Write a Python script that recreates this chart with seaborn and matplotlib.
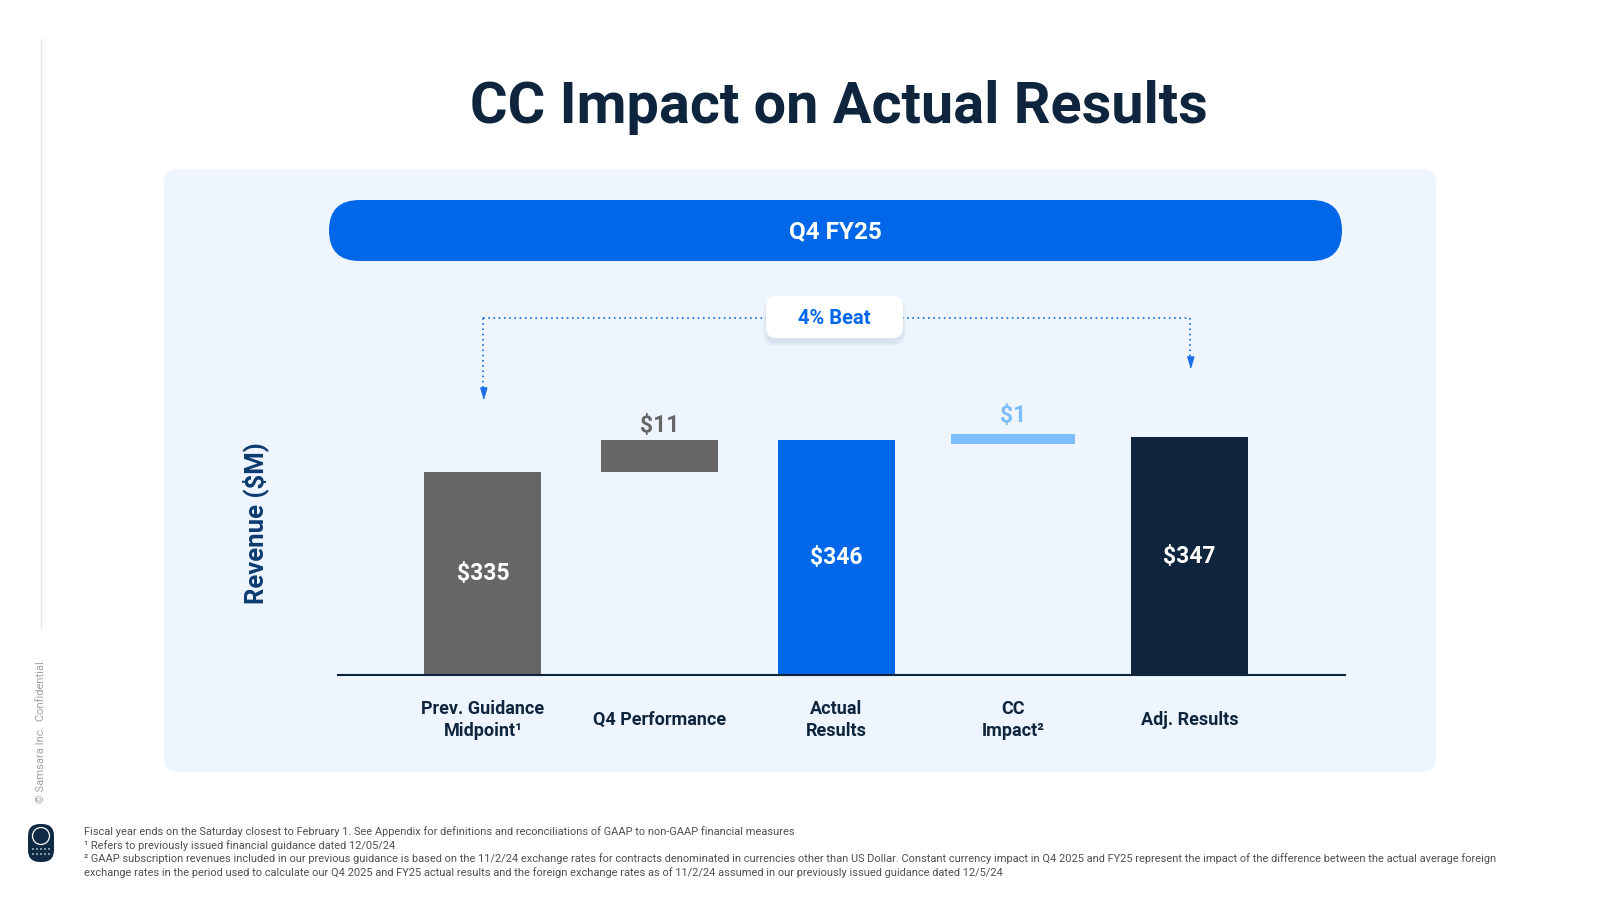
import numpy as np
import pandas as pd
import matplotlib
matplotlib.use("Agg")
import matplotlib.pyplot as plt
from matplotlib.patches import FancyBboxPatch, Circle
from matplotlib.transforms import blended_transform_factory
import seaborn as sns

# DATA
categories = ["Prev. Guidance\nMidpoint¹", "Q4 Performance", "Actual\nResults",
              "CC\nImpact²", "Adj. Results"]
values = [335, 11, 346, 1, 347]
step_kind = ["total", "change", "total", "change", "total"]
value_labels = ["$335", "$11", "$346", "$1", "$347"]

title = "CC Impact on Actual Results"
period_label = "Q4 FY25"
beat_label = "4% Beat"
y_label = "Revenue ($M)"
watermark = "© Samsara Inc.  Confidential."
footnotes = [
    "Fiscal year ends on the Saturday closest to February 1. See Appendix for definitions and reconciliations of GAAP to non-GAAP financial measures",
    "¹ Refers to previously issued financial guidance dated 12/05/24",
    "² GAAP subscription revenues included in our previous guidance is based on the 11/2/24 exchange rates for contracts denominated in currencies other than US Dollar. Constant currency impact in Q4 2025 and FY25 represent the impact of the difference between the actual average foreign",
    "exchange rates in the period used to calculate our Q4 2025 and FY25 actual results and the foreign exchange rates as of 11/2/24 assumed in our previously issued guidance dated 12/5/24",
]

# STYLE
NAVY = "#0F253E"
BLUE = "#0068E8"
GREY = "#666666"
LIGHT_BLUE = "#7DBDFB"
PANEL = "#EEF5FE"
bar_colors = [GREY, GREY, BLUE, LIGHT_BLUE, NAVY]
label_colors = ["white", GREY, "white", LIGHT_BLUE, "white"]
Y_MIN, Y_MAX = 264, 367

sns.set_theme(style="white")
plt.rcParams["font.family"] = ["Roboto", "DejaVu Sans"]

# waterfall bottoms
bottoms = []
running = 0
for v, k in zip(values, step_kind):
    if k == "total":
        bottoms.append(0)
        running = v
    else:
        bottoms.append(running)
        running += v

df = pd.DataFrame({"category": categories, "value": values, "bottom": bottoms})

fig = plt.figure(figsize=(16, 9), dpi=100, facecolor="white")


def inch(x, y):
    # pixel position (from top-left) -> inches (from bottom-left)
    return x / 100, (900 - y) / 100


def rbox(x0, y0, x1, y1, r, color, z, **kw):
    a, b = inch(x0, y1)
    p = FancyBboxPatch((a, b), (x1 - x0) / 100, (y1 - y0) / 100,
                       boxstyle=f"round,pad=0,rounding_size={r / 100}",
                       transform=fig.dpi_scale_trans, facecolor=color,
                       edgecolor="none", zorder=z, **kw)
    fig.patches.append(p)
    return p


fy = lambda p: 1 - p / 900

# background panel and period pill
rbox(164, 169, 1436, 772, 14, PANEL, -10)
rbox(329, 200, 1342, 261, 30.5, BLUE, -9)
fig.text(835.5 / 1600, fy(232), period_label, ha="center", va="center",
         color="white", fontsize=17.5, fontweight="bold")

# title
fig.text(839 / 1600, fy(123), title, ha="center", va="baseline",
         color=NAVY, fontsize=41.5, fontweight="bold")

# main axes
ax = fig.add_axes([338 / 1600, 0.25, 1007 / 1600, 295 / 900])
ax.set_facecolor("none")

sns.barplot(data=df, x="category", y="value", bottom=df["bottom"].to_numpy(),
            width=0.663, errorbar=None, color=GREY, saturation=1, ax=ax)

for i, patch in enumerate(ax.patches):
    patch.set_facecolor(bar_colors[i])
    patch.set_edgecolor(bar_colors[i])
    patch.set_linewidth(5 if values[i] < 5 else 0)

ax.set_xlim(-0.82, 4.88)
ax.set_ylim(Y_MIN, Y_MAX)
ax.set_xlabel("")
ax.set_ylabel("")
ax.set_yticks([])
sns.despine(ax=ax, left=True)
ax.spines["bottom"].set_color(NAVY)
ax.spines["bottom"].set_linewidth(1.5)
ax.tick_params(axis="x", length=0, pad=32.5, labelsize=13, labelcolor=NAVY)
for lbl in ax.get_xticklabels():
    lbl.set_fontweight("bold")
    lbl.set_verticalalignment("center")
    lbl.set_linespacing(1.3)

# value labels
for i, (v, b, k) in enumerate(zip(values, bottoms, step_kind)):
    if k == "total":
        ax.text(i, (Y_MIN + v) / 2, value_labels[i], ha="center", va="center",
                color=label_colors[i], fontsize=16.5, fontweight="bold")
    else:
        ax.annotate(value_labels[i], xy=(i, b + v), xytext=(0, 10.5 if v > 5 else 15.5),
                    textcoords="offset points", ha="center", va="center",
                    color=label_colors[i], fontsize=16.5, fontweight="bold",
                    annotation_clip=False)

# beat bracket
tr = blended_transform_factory(ax.transData, fig.transFigure)
dot_kw = dict(color="#1A6FE6", lw=1.3, linestyle=(0, (0.9, 2.0)),
              transform=tr, clip_on=False)
ax.plot([0, 4], [fy(318), fy(318)], **dot_kw)
ax.plot([0, 0], [fy(318), fy(390)], **dot_kw)
ax.plot([4, 4], [fy(318), fy(359)], **dot_kw)
head = [(-3, 5), (3, 5), (0, -5)]
ax.plot([0, 4], [fy(393), fy(362)], linestyle="none", marker=head,
        markersize=8, color="#1A6FE6", transform=tr, clip_on=False)

# beat box with soft shadow
for k in range(4):
    rbox(766 - k, 299 - k + 2, 903 + k, 341 + k + 2, 10 + k, "#8A9BB5", 4, alpha=0.05)
rbox(766, 296, 903, 338, 10, "white", 5)
fig.text(834.5 / 1600, fy(319), beat_label, ha="center", va="center",
         color=BLUE, fontsize=14.5, fontweight="bold", zorder=6)

# y label
fig.text(256 / 1600, fy(523), y_label, rotation=90, ha="center", va="center",
         color="#0B3B70", fontsize=18.5, fontweight="bold")

# left margin decorations
fig.add_artist(plt.Line2D([41 / 1600, 41 / 1600], [fy(39), fy(628)],
                          color="#E4E4E4", lw=1))
fig.text(41 / 1600, fy(731), watermark, rotation=90, ha="center", va="center",
         color="#A0A0A0", fontsize=8)
rbox(28, 824, 54, 862, 12, "#0F2A44", 2)
fig.patches.append(Circle(inch(41, 836), 0.085, transform=fig.dpi_scale_trans,
                          facecolor="none", edgecolor="white", lw=0.9, zorder=3))
for dx in [-8, -4, 0, 4, 8]:
    for dy in [849, 854]:
        fig.patches.append(Circle(inch(41 + dx, dy), 0.008, transform=fig.dpi_scale_trans,
                                  facecolor="white", edgecolor="none", zorder=3))

# footnotes
for j, line in enumerate(footnotes):
    fig.text(84 / 1600, fy(832 + j * 13.4), line, ha="left", va="center",
             color="#505050", fontsize=7.9)

fig.savefig("out.png", dpi=100, facecolor="white")
